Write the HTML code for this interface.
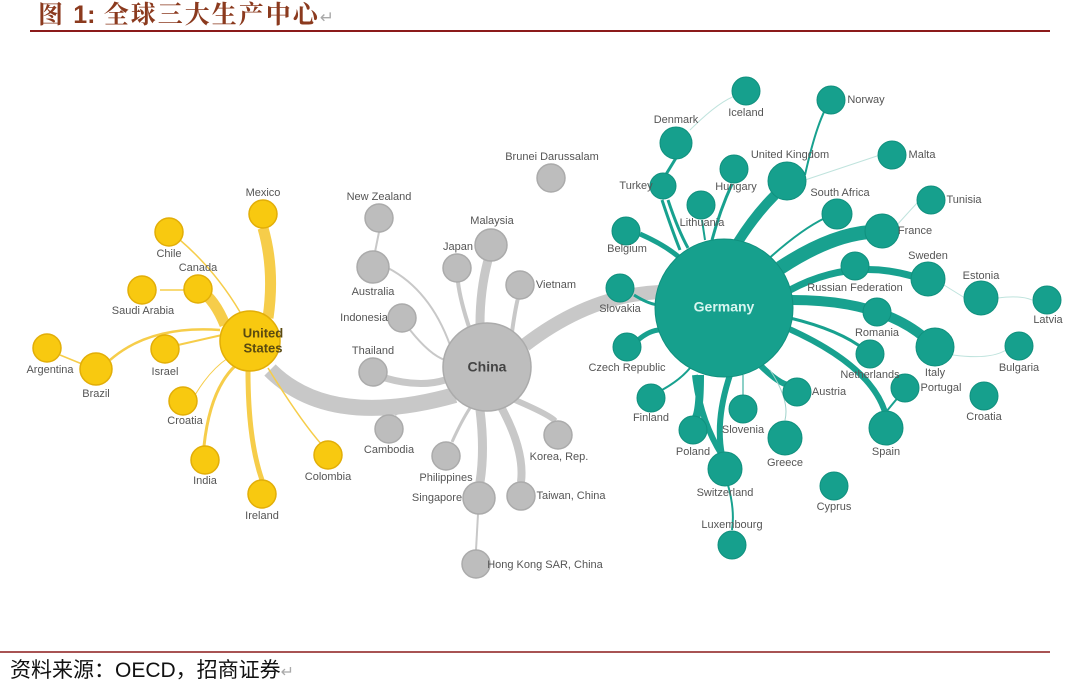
<!DOCTYPE html>
<html><head><meta charset="utf-8"><style>
body{margin:0;background:#fff;width:1068px;height:687px;overflow:hidden}
svg{display:block}
.l{font-family:"Liberation Sans Narrow","Liberation Sans",sans-serif;font-size:11px;fill:#555;text-anchor:middle;dominant-baseline:middle}
.y{fill:#F8C910;stroke:#E2AE08;stroke-width:1.5}
.g{fill:#BDBDBD;stroke:#ABABAB;stroke-width:1.5}
.t{fill:#16A08D;stroke:#10907E;stroke-width:1}
.ey{stroke:#F6CD4A;fill:none}
.eg{stroke:#C8C8C8;fill:none}
.et{stroke:#18A18F;fill:none}
</style></head><body>
<svg width="1068" height="687" viewBox="0 0 1068 687">
<text x="38" y="23" font-family="'Liberation Serif','Noto Serif CJK SC',serif" font-size="25" font-weight="bold" fill="#8B3A1E" letter-spacing="2">图 <tspan font-family="'Liberation Sans',sans-serif" letter-spacing="0">1:</tspan> 全球三大生产中心<tspan fill="#aaa" font-size="17" font-weight="normal">↵</tspan></text>
<line x1="30" y1="31" x2="1050" y2="31" stroke="#8B1A1A" stroke-width="2"/>
<line x1="0" y1="652" x2="1050" y2="652" stroke="#8B1A1A" stroke-width="1.5"/>
<text x="10" y="677" font-family="'Liberation Sans','Noto Sans CJK SC',sans-serif" font-size="21" fill="#111">资料来源：OECD，招商证券<tspan fill="#aaa" font-size="16">↵</tspan></text>

<path class="eg" stroke-width="16" d="M270,370 Q330,430 455,395"/>
<path class="eg" stroke-width="14" d="M525,345 Q590,295 660,292"/>
<g class="eg">
<path stroke-width="2" d="M379,232 L375,252"/>
<path stroke-width="2" d="M388,268 Q430,290 450,345"/>
<path stroke-width="2" d="M410,330 Q430,355 445,360"/>
<path stroke-width="7" d="M385,378 Q420,388 445,380"/>
<path stroke-width="2" d="M395,415 Q420,400 450,392"/>
<path stroke-width="9" d="M480,324 Q480,290 488,260"/>
<path stroke-width="4" d="M470,330 Q460,300 458,282"/>
<path stroke-width="4" d="M512,332 Q515,310 518,298"/>
<path stroke-width="3" d="M452,442 Q462,420 470,408"/>
<path stroke-width="9" d="M480,410 Q485,450 480,482"/>
<path stroke-width="8" d="M500,405 Q525,450 521,482"/>
<path stroke-width="6" d="M515,400 Q550,415 555,421"/>
<path stroke-width="2" d="M478,514 L476,550"/>
</g>
<g class="ey">
<path stroke-width="11" d="M268,318 Q275,270 263,228"/>
<path stroke-width="11" d="M225,325 Q215,300 200,290"/>
<path stroke-width="1.5" d="M160,290 L185,290"/>
<path stroke-width="1.5" d="M180,240 Q215,270 240,312"/>
<path stroke-width="2.5" d="M220,330 Q150,325 110,360"/>
<path stroke-width="1.5" d="M60,355 L82,364"/>
<path stroke-width="2" d="M178,345 L222,335"/>
<path stroke-width="1" d="M195,395 Q210,370 228,358"/>
<path stroke-width="3" d="M204,446 Q210,390 235,366"/>
<path stroke-width="5" d="M248,371 Q248,440 262,480"/>
<path stroke-width="1.5" d="M268,368 Q300,420 322,445"/>
</g>
<g class="et">
<path stroke-width="1" stroke="#bfe3dd" d="M690,130 Q720,100 738,95"/>
<path stroke-width="2" d="M805,175 Q815,130 825,110"/>
<path stroke-width="3" d="M676,158 L665,176"/>
<path stroke-width="3" d="M662,200 Q672,230 680,250"/>
<path stroke-width="3" d="M668,200 Q678,230 688,248"/>
<path stroke-width="3" d="M732,184 Q720,210 712,240"/>
<path stroke-width="2" d="M702,220 L705,240"/>
<path stroke-width="10" d="M775,195 Q755,215 738,242"/>
<path stroke-width="1" stroke="#bfe3dd" d="M805,180 L880,155"/>
<path stroke-width="2" d="M765,262 Q800,230 825,218"/>
<path stroke-width="14" d="M780,268 Q830,235 870,232"/>
<path stroke-width="1" stroke="#bfe3dd" d="M897,225 Q915,205 920,200"/>
<path stroke-width="5" d="M640,234 Q665,245 680,258"/>
<path stroke-width="3" d="M634,295 Q650,305 660,305"/>
<path stroke-width="7" d="M790,290 Q850,258 912,276"/>
<path stroke-width="1" stroke="#bfe3dd" d="M944,285 Q960,295 965,298"/>
<path stroke-width="1" stroke="#bfe3dd" d="M998,298 Q1020,295 1032,300"/>
<path stroke-width="10" d="M792,300 Q880,300 925,338"/>
<path stroke-width="3" d="M790,318 Q840,330 865,350"/>
<path stroke-width="1" stroke="#bfe3dd" d="M953,355 Q990,360 1006,350"/>
<path stroke-width="5" d="M638,340 Q650,330 660,330"/>
<path stroke-width="2" d="M662,390 Q680,380 690,368"/>
<path stroke-width="6" d="M760,365 Q780,385 790,385"/>
<path stroke-width="6" d="M787,328 Q870,365 885,412"/>
<path stroke-width="2" d="M886,412 L900,395"/>
<path stroke-width="1" d="M743,395 L743,375"/>
<path stroke-width="1" stroke="#9fd2ca" d="M770,370 Q790,400 785,420"/>
<path stroke-width="8" d="M700,375 Q700,420 693,420"/>
<path stroke-width="6" d="M695,375 Q700,420 722,455"/>
<path stroke-width="6" d="M730,375 Q715,420 722,455"/>
<path stroke-width="2" d="M728,485 Q735,510 732,530"/>
</g>

<g class="y">
<circle cx="250" cy="341" r="30"/>
<circle cx="263" cy="214" r="14"/><circle cx="169" cy="232" r="14"/><circle cx="198" cy="289" r="14"/>
<circle cx="142" cy="290" r="14"/><circle cx="47" cy="348" r="14"/><circle cx="96" cy="369" r="16"/>
<circle cx="165" cy="349" r="14"/><circle cx="183" cy="401" r="14"/><circle cx="205" cy="460" r="14"/>
<circle cx="262" cy="494" r="14"/><circle cx="328" cy="455" r="14"/>
</g>
<g class="g">
<circle cx="487" cy="367" r="44"/>
<circle cx="379" cy="218" r="14"/><circle cx="373" cy="267" r="16"/><circle cx="402" cy="318" r="14"/>
<circle cx="373" cy="372" r="14"/><circle cx="389" cy="429" r="14"/><circle cx="446" cy="456" r="14"/>
<circle cx="479" cy="498" r="16"/><circle cx="476" cy="564" r="14"/><circle cx="521" cy="496" r="14"/>
<circle cx="558" cy="435" r="14"/><circle cx="520" cy="285" r="14"/><circle cx="491" cy="245" r="16"/>
<circle cx="457" cy="268" r="14"/><circle cx="551" cy="178" r="14"/>
</g>
<g class="t">
<circle cx="724" cy="308" r="69"/>
<circle cx="746" cy="91" r="14"/><circle cx="831" cy="100" r="14"/><circle cx="676" cy="143" r="16"/>
<circle cx="663" cy="186" r="13"/><circle cx="734" cy="169" r="14"/><circle cx="701" cy="205" r="14"/>
<circle cx="787" cy="181" r="19"/><circle cx="892" cy="155" r="14"/><circle cx="837" cy="214" r="15"/>
<circle cx="931" cy="200" r="14"/><circle cx="882" cy="231" r="17"/><circle cx="626" cy="231" r="14"/>
<circle cx="620" cy="288" r="14"/><circle cx="928" cy="279" r="17"/><circle cx="981" cy="298" r="17"/>
<circle cx="1047" cy="300" r="14"/><circle cx="855" cy="266" r="14"/><circle cx="877" cy="312" r="14"/>
<circle cx="627" cy="347" r="14"/><circle cx="935" cy="347" r="19"/><circle cx="870" cy="354" r="14"/>
<circle cx="1019" cy="346" r="14"/><circle cx="651" cy="398" r="14"/><circle cx="797" cy="392" r="14"/>
<circle cx="905" cy="388" r="14"/><circle cx="984" cy="396" r="14"/><circle cx="743" cy="409" r="14"/>
<circle cx="693" cy="430" r="14"/><circle cx="785" cy="438" r="17"/><circle cx="886" cy="428" r="17"/>
<circle cx="725" cy="469" r="17"/><circle cx="834" cy="486" r="14"/><circle cx="732" cy="545" r="14"/>
</g>

<g class="l">
<text x="263" y="334" font-weight="bold" font-size="13" fill="#5a4a10">United</text>
<text x="263" y="349" font-weight="bold" font-size="13" fill="#5a4a10">States</text>
<text x="487" y="368" font-weight="bold" font-size="14" fill="#444">China</text>
<text x="724" y="308" font-weight="bold" font-size="14" fill="#d8f5f0">Germany</text>

<text x="263" y="193">Mexico</text><text x="169" y="254">Chile</text><text x="198" y="268">Canada</text>
<text x="143" y="311">Saudi Arabia</text><text x="50" y="370">Argentina</text><text x="96" y="394">Brazil</text>
<text x="165" y="372">Israel</text><text x="185" y="421">Croatia</text><text x="205" y="481">India</text>
<text x="262" y="516">Ireland</text><text x="328" y="477">Colombia</text>

<text x="379" y="197">New Zealand</text><text x="373" y="292">Australia</text><text x="364" y="318">Indonesia</text>
<text x="373" y="351">Thailand</text><text x="389" y="450">Cambodia</text><text x="446" y="478">Philippines</text>
<text x="437" y="498">Singapore</text><text x="545" y="565">Hong Kong SAR, China</text><text x="571" y="496">Taiwan, China</text>
<text x="559" y="457">Korea, Rep.</text><text x="556" y="285">Vietnam</text><text x="492" y="221">Malaysia</text>
<text x="458" y="247">Japan</text><text x="552" y="157">Brunei Darussalam</text>

<text x="746" y="113">Iceland</text><text x="866" y="100">Norway</text><text x="676" y="120">Denmark</text>
<text x="636" y="186">Turkey</text><text x="736" y="187">Hungary</text><text x="702" y="223">Lithuania</text>
<text x="790" y="155">United Kingdom</text><text x="922" y="155">Malta</text><text x="840" y="193">South Africa</text>
<text x="964" y="200">Tunisia</text><text x="915" y="231">France</text><text x="627" y="249">Belgium</text>
<text x="620" y="309">Slovakia</text><text x="928" y="256">Sweden</text><text x="981" y="276">Estonia</text>
<text x="1048" y="320">Latvia</text><text x="855" y="288">Russian Federation</text><text x="877" y="333">Romania</text>
<text x="627" y="368">Czech Republic</text><text x="935" y="373">Italy</text><text x="870" y="375">Netherlands</text>
<text x="1019" y="368">Bulgaria</text><text x="651" y="418">Finland</text><text x="829" y="392">Austria</text>
<text x="941" y="388">Portugal</text><text x="984" y="417">Croatia</text><text x="743" y="430">Slovenia</text>
<text x="693" y="452">Poland</text><text x="785" y="463">Greece</text><text x="886" y="452">Spain</text>
<text x="725" y="493">Switzerland</text><text x="834" y="507">Cyprus</text><text x="732" y="525">Luxembourg</text>
</g>
</svg>
</body></html>
